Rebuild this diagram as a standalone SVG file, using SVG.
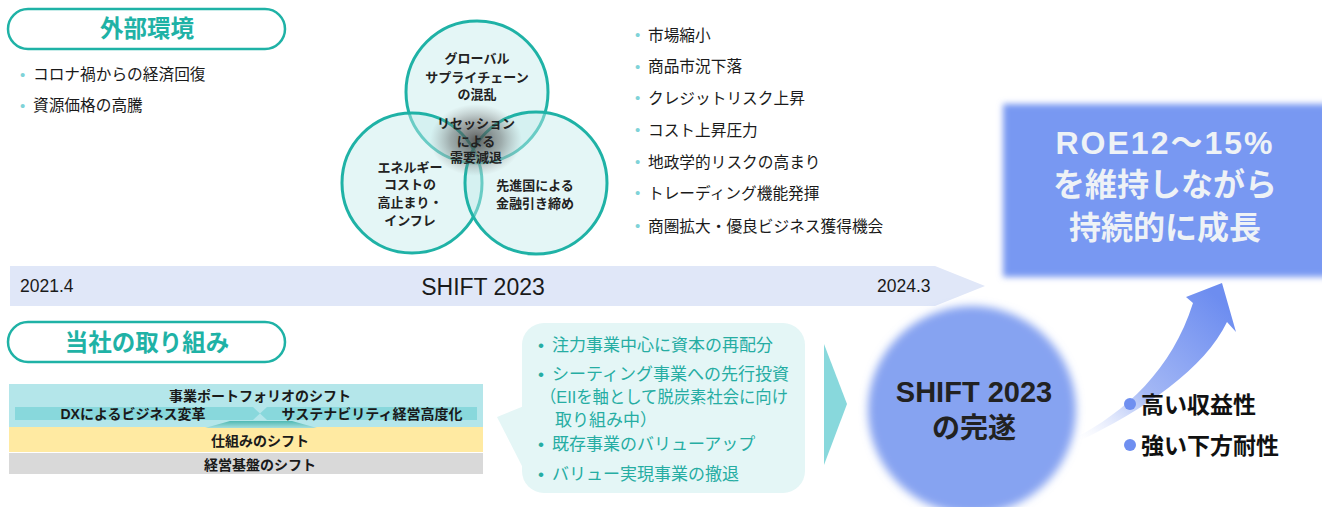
<svg xmlns="http://www.w3.org/2000/svg" width="1322" height="507" viewBox="0 0 1322 507">
<style>
text{font-family:"Liberation Sans","Noto Sans CJK JP",sans-serif}
.pill{fill:#fff;stroke:#1fb2a6;stroke-width:2.5}
.pt{font-size:23.5px;font-weight:bold;fill:#1fb2a6;text-anchor:middle}
.b{font-size:15.7px;fill:#1a1a1a}
.dot{fill:#7fd3d8}
.vc{fill:#c4eaea;fill-opacity:0.45;stroke:#1fb2a6;stroke-width:3}
.ct{font-size:13px;font-weight:bold;fill:#222;text-anchor:middle}
.bt{font-size:17px;fill:#26ada3}
.bar{font-size:14px;font-weight:bold;fill:#1a1a1a;text-anchor:middle}
.res{font-size:23px;font-weight:bold;fill:#111}
</style>
<defs>
<filter id="blur3" x="-10%" y="-10%" width="120%" height="120%"><feGaussianBlur stdDeviation="3"/></filter>
<filter id="blur4" x="-10%" y="-10%" width="120%" height="120%"><feGaussianBlur stdDeviation="4"/></filter>
<radialGradient id="shadow" cx="0.5" cy="0.5" r="0.5">
<stop offset="0" stop-color="#444" stop-opacity="0.85"/>
<stop offset="0.55" stop-color="#666" stop-opacity="0.5"/>
<stop offset="1" stop-color="#888" stop-opacity="0"/>
</radialGradient>
<linearGradient id="trap" x1="0" y1="0" x2="0" y2="1">
<stop offset="0" stop-color="#4fb9b3"/>
<stop offset="1" stop-color="#a6dedd"/>
</linearGradient>
<linearGradient id="arr" gradientUnits="userSpaceOnUse" x1="1080" y1="440" x2="1215" y2="295">
<stop offset="0" stop-color="#ffffff" stop-opacity="0.4"/>
<stop offset="0.4" stop-color="#a4b8f5"/>
<stop offset="1" stop-color="#6d8df0"/>
</linearGradient>
</defs>

<g id="timeline">
<polygon points="10,266 935,266 985,286 935,306 10,306" fill="#e0e7f8"/>
<text x="20" y="292" font-size="17.5" fill="#1a1a1a">2021.4</text>
<text x="483" y="295" font-size="23" fill="#1a1a1a" text-anchor="middle">SHIFT 2023</text>
<text x="877" y="292" font-size="17.5" fill="#1a1a1a">2024.3</text>
</g>

<g id="external">
<rect class="pill" x="8" y="9" width="277" height="40" rx="20"/>
<text class="pt" x="147" y="37">外部環境</text>
<text class="dot" x="20" y="80" font-size="15">•</text>
<text class="b" x="33" y="80">コロナ禍からの経済回復</text>
<text class="dot" x="20" y="111" font-size="15">•</text>
<text class="b" x="33" y="111">資源価格の高騰</text>
</g>

<g id="venn">
<circle class="vc" cx="477" cy="92" r="71"/>
<circle class="vc" cx="412" cy="183" r="70"/>
<circle class="vc" cx="536" cy="183" r="71"/>
<ellipse cx="476" cy="140" rx="46" ry="36" fill="url(#shadow)"/>
<text class="ct" x="477" y="63">グローバル</text>
<text class="ct" x="477" y="82">サプライチェーン</text>
<text class="ct" x="477" y="99">の混乱</text>
<text class="ct" x="476" y="128">リセッション</text>
<text class="ct" x="476" y="146">による</text>
<text class="ct" x="476" y="162">需要減退</text>
<text class="ct" x="410" y="172">エネルギー</text>
<text class="ct" x="410" y="189">コストの</text>
<text class="ct" x="410" y="207">高止まり・</text>
<text class="ct" x="410" y="225">インフレ</text>
<text class="ct" x="535" y="190">先進国による</text>
<text class="ct" x="535" y="208">金融引き締め</text>
</g>

<g id="risks">
<text class="dot" x="635" y="40" font-size="15">•</text><text class="b" x="648" y="41" font-size="16.5">市場縮小</text>
<text class="dot" x="635" y="72" font-size="15">•</text><text class="b" x="648" y="72" font-size="16.5">商品市況下落</text>
<text class="dot" x="635" y="103" font-size="15">•</text><text class="b" x="648" y="104" font-size="16.5">クレジットリスク上昇</text>
<text class="dot" x="635" y="135" font-size="15">•</text><text class="b" x="648" y="136" font-size="16.5">コスト上昇圧力</text>
<text class="dot" x="635" y="167" font-size="15">•</text><text class="b" x="648" y="168" font-size="16.5">地政学的リスクの高まり</text>
<text class="dot" x="635" y="198" font-size="15">•</text><text class="b" x="648" y="199" font-size="16.5">トレーディング機能発揮</text>
<text class="dot" x="635" y="231" font-size="15">•</text><text class="b" x="648" y="232" font-size="16.5">商圏拡大・優良ビジネス獲得機会</text>
</g>

<g id="goal">
<rect x="1003" y="104" width="330" height="173" fill="#7898f2" filter="url(#blur3)"/>
<text x="1165" y="154" font-size="32" font-weight="bold" fill="#eef2f6" text-anchor="middle" letter-spacing="2">ROE12～15%</text>
<text x="1165" y="196" font-size="32" font-weight="bold" fill="#eef2f6" text-anchor="middle">を維持しながら</text>
<text x="1165" y="239" font-size="32" font-weight="bold" fill="#eef2f6" text-anchor="middle">持続的に成長</text>
</g>

<g id="initiatives">
<rect class="pill" x="8" y="322" width="277" height="40" rx="20"/>
<text class="pt" x="147" y="351">当社の取り組み</text>
</g>

<g id="shift-stack">
<rect x="9" y="384" width="474" height="43" fill="#b4e6ea"/>
<text class="bar" x="260" y="401">事業ポートフォリオのシフト</text>
<polygon points="15,407 253,407 260,413.5 253,420 15,420" fill="#88d8dc"/>
<polygon points="267,407 477,407 477,420 267,420 260,413.5" fill="#88d8dc"/>
<text class="bar" x="133" y="419">DXによるビジネス変革</text>
<text class="bar" x="372" y="419">サステナビリティ経営高度化</text>
<rect x="9" y="427" width="474" height="25" fill="#ffeaa2"/>
<polygon points="205,428 317,428 292,421 230,421" fill="url(#trap)"/>
<text class="bar" x="260" y="446" font-size="14.5">仕組みのシフト</text>
<rect x="9" y="453" width="474" height="21" fill="#d9d9d9"/>
<text class="bar" x="260" y="470" font-size="14.5">経営基盤のシフト</text>
</g>

<g id="bubble">
<rect x="522" y="323" width="283" height="170" rx="22" fill="#e4f6f6"/>
<polygon points="497,417 524,406 524,470" fill="#e4f6f6"/>
<text class="bt" x="538" y="351">•</text><text class="bt" x="552" y="351">注力事業中心に資本の再配分</text>
<text class="bt" x="538" y="380">•</text><text class="bt" x="552" y="380">シーティング事業への先行投資</text>
<text class="bt" x="540" y="403" textLength="248" lengthAdjust="spacingAndGlyphs">（EIIを軸として脱炭素社会に向け</text>
<text class="bt" x="555" y="426">取り組み中）</text>
<text class="bt" x="538" y="450">•</text><text class="bt" x="552" y="450">既存事業のバリューアップ</text>
<text class="bt" x="538" y="480">•</text><text class="bt" x="552" y="480">バリュー実現事業の撤退</text>
</g>

<g id="connectors">
<polygon points="824,344 847,404 824,465" fill="#88d8dc"/>
<path d="M1075,438 C1125,412 1172,370 1193,303 L1186,297 L1222,283 L1236,332 L1227,322 C1205,368 1145,410 1077,442 Z" fill="url(#arr)"/>
</g>

<g id="completion">
<circle cx="972" cy="410" r="104" fill="#86a3f1" filter="url(#blur4)"/>
<text x="974" y="402" font-size="29" font-weight="bold" fill="#222" text-anchor="middle">SHIFT 2023</text>
<text x="974" y="438" font-size="28" font-weight="bold" fill="#222" text-anchor="middle">の完遂</text>
</g>

<g id="results">
<circle cx="1130" cy="404" r="6" fill="#6f8ff0"/>
<text class="res" x="1141" y="413">高い収益性</text>
<circle cx="1130" cy="445" r="6" fill="#6f8ff0"/>
<text class="res" x="1141" y="454">強い下方耐性</text>
</g>
</svg>
